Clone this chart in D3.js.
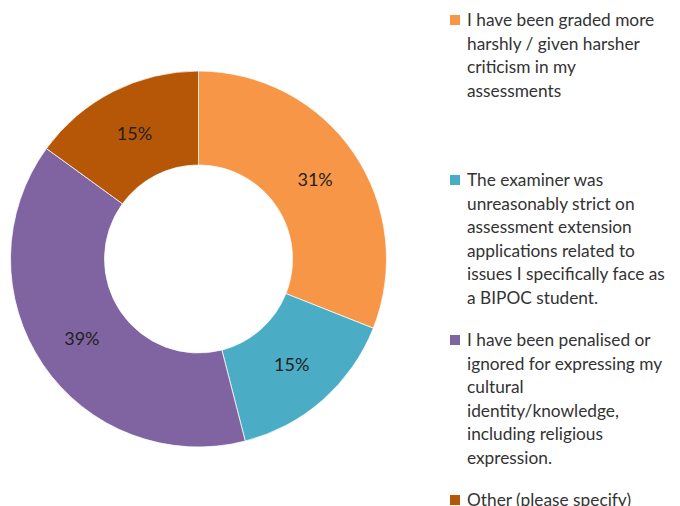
<!DOCTYPE html>
<html>
<head>
<meta charset="utf-8">
<script src="https://cdn.jsdelivr.net/npm/d3@7"></script>
<style>
  html, body { margin: 0; padding: 0; background: #fff; }
  svg { display: block; font-family: Lato, "Open Sans", sans-serif; }
</style>
</head>
<body>
<div id="chart"></div>
<script>
// answers in the order Excel plots them, clockwise from 12 o'clock
const categories = [
    "I have been graded more\nharshly / given harsher\ncriticism in my\nassessments",
    "The examiner was\nunreasonably strict on\nassessment extension\napplications related to\nissues I specifically face as\na BIPOC student.",
    "I have been penalised or\nignored for expressing my\ncultural\nidentity/knowledge,\nincluding religious\nexpression.",
    "Other (please specify)"
];
const shares = [0.31, 0.15, 0.39, 0.15];
const colors = ["#F79646", "#4BACC6", "#8064A2", "#B65708"];

const width = 680, height = 506;
const cx = 198.5, cy = 259, outerR = 188, innerR = 94;

let svg = d3.select('#chart').append('svg')
    .attr('width', width)
    .attr('height', height);

let pie = d3.pie().sort(null).value(d => d.value);
let arc = d3.arc().innerRadius(innerR).outerRadius(outerR);

let data = shares.map((v, i) => ({ value: v, name: categories[i], color: colors[i] }));
let arcs = pie(data);

let donut = svg.append('g')
    .attr('transform', `translate(${cx},${cy})`);

donut.selectAll('path')
    .data(arcs)
    .enter().append('path')
        .attr('d', arc)
        .style('fill', d => d.data.color)
        .style('stroke', '#fff')
        .style('stroke-width', 0.75);

let pct = d3.format('.0%');
donut.selectAll('text')
    .data(arcs)
    .enter().append('text')
        .attr('transform', d => `translate(${arc.centroid(d)})`)
        .attr('text-anchor', 'middle')
        .attr('dy', '0.35em')
        .style('font-size', '18px')
        .style('fill', '#1f1f1f')
        .text(d => pct(d.data.value));

// legend, one block every 160px down the right side
let legend = svg.append('g')
    .attr('transform', 'translate(450,20)');

let item = legend.selectAll('g')
    .data(data)
    .enter().append('g')
        .attr('transform', (d, i) => `translate(0,${i * 160})`);

item.append('rect')
    .attr('x', 0)
    .attr('y', -5)
    .attr('width', 10)
    .attr('height', 10)
    .style('fill', d => d.color);

item.append('text')
    .style('font-size', '17.3px')
    .style('fill', '#333')
    .selectAll('tspan')
    .data(d => d.name.split('\n'))
    .enter().append('tspan')
        .attr('x', 17)
        .attr('y', (d, i) => i * 23.5)
        .attr('dy', '0.35em')
        .text(d => d);
</script>
</body>
</html>
